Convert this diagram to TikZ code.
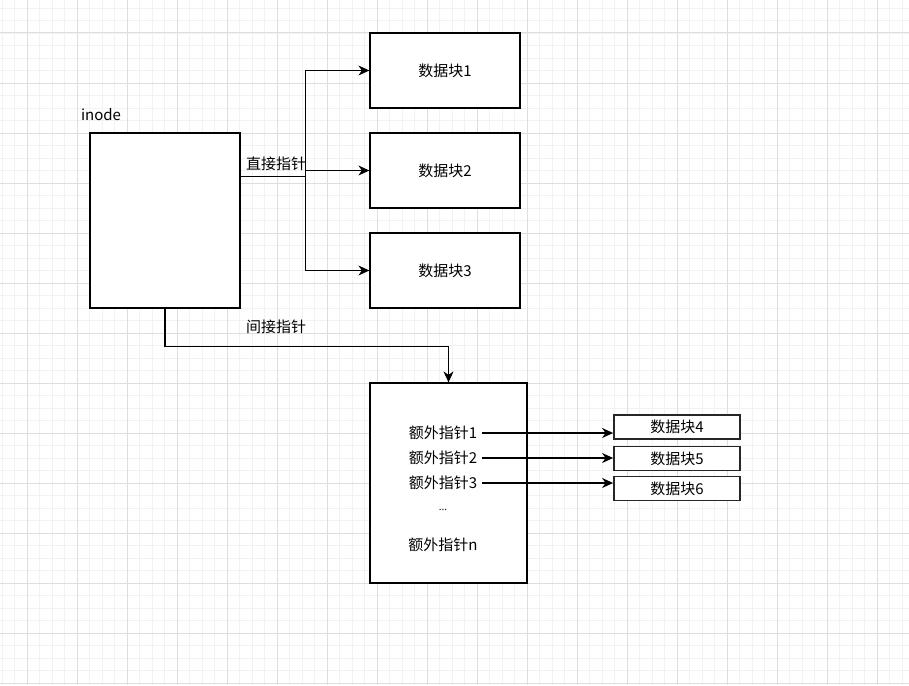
\documentclass[tikz,border=0pt]{standalone}
\usepackage{fontspec}
\setmainfont{Noto Sans CJK SC}
\usetikzlibrary{arrows.meta,calc}
\definecolor{gminor}{HTML}{F2F2F2}
\definecolor{gmajor}{HTML}{DEDEDE}
\tikzset{
  gridminor/.style={draw=gminor,line width=0.8pt},
  gridmajor/.style={draw=gmajor,line width=1pt},
  box/.style={draw=black,line width=1.25pt,fill=white,inner sep=0pt,font=\fontsize{15}{18}\selectfont},
  smallbox/.style={draw=black!85,line width=1.8pt,fill=white,inner sep=0pt,minimum width=126pt,minimum height=24pt,font=\fontsize{15}{18}\selectfont},
  lbl/.style={inner sep=1pt,font=\fontsize{15}{18}\selectfont},
  arr/.style={draw=black,line width=1.25pt,-{Stealth[length=11pt,width=10pt,inset=3.5pt]}},
}
\begin{document}
\begin{tikzpicture}[x=1pt,y=-1pt]
\useasboundingbox[fill=white] (0,0) rectangle (909,685);
% grid
\foreach \i in {0,...,72} \draw[gridminor] ({2+12.5*\i},0) -- ({2+12.5*\i},685);
\foreach \i in {0,...,53} \draw[gridminor] (0,{8+12.5*\i}) -- (909,{8+12.5*\i});
\foreach \i in {0,...,17} \draw[gridmajor] ({27+50*\i},0) -- ({27+50*\i},685);
\foreach \i in {0,...,13} \draw[gridmajor] (0,{33+50*\i}) -- (909,{33+50*\i});
% nodes
\node[lbl] (inodelbl) at (101,115) {inode};
\node[box,minimum width=150pt,minimum height=175pt] (inode) at (165,220.5) {};
\node[box,minimum width=150pt,minimum height=75pt] (d1) at (445,70.5) {数据块1};
\node[box,minimum width=150pt,minimum height=75pt] (d2) at (445,170.5) {数据块2};
\node[box,minimum width=150pt,minimum height=75pt] (d3) at (445,270.5) {数据块3};
\node[box,minimum width=157pt,minimum height=200pt] (extra) at (448.5,483) {};
\node[smallbox] (d4) at (677,427) {数据块4};
\node[smallbox] (d5) at (677,458.5) {数据块5};
\node[smallbox] (d6) at (677,488.5) {数据块6};
\node[lbl] (t1) at (443,433) {额外指针1};
\node[lbl] (t2) at (443,458) {额外指针2};
\node[lbl] (t3) at (443,483) {额外指针3};
\node[lbl,font=\fontsize{10}{12}\selectfont] (tdots) at (443,510) {...};
\node[lbl] (tn) at (443,545) {额外指针n};
% direct pointers
\draw[arr] ($(inode.north east)+(0,44)$) -- ++(65,0) |- (d1.west);
\draw[arr] ($(inode.north east)+(0,44)$) -- ++(65,0) |- (d2.west);
\draw[arr] ($(inode.north east)+(0,44)$) -- ++(65,0) |- (d3.west);
\node[lbl] (dlbl) at (276,164) {直接指针};
% indirect pointer
\draw[arr] (inode.south) -- ++(0,38) -| (extra.north);
\node[lbl] (ilbl) at (276,327) {间接指针};
% extra pointers
\draw[arr] ($(t1.east)+(4,0)$) -- (t1.east -| d4.west);
\draw[arr] ($(t2.east)+(4,0)$) -- (t2.east -| d5.west);
\draw[arr] ($(t3.east)+(4,0)$) -- (t3.east -| d6.west);
\end{tikzpicture}
\end{document}
